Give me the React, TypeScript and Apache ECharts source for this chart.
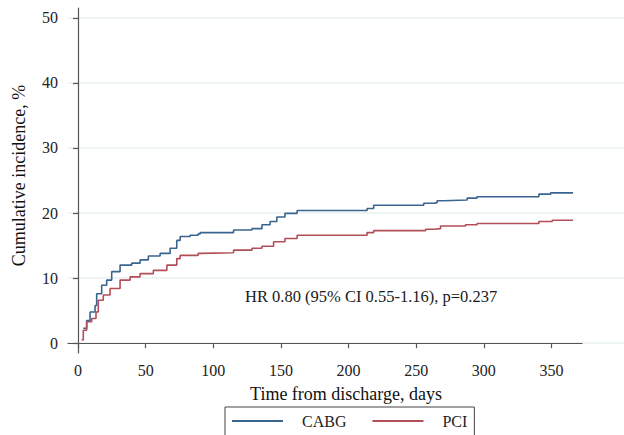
import React, { useEffect, useRef } from "react";
import * as echarts from "echarts";

// Kaplan-Meier style cumulative incidence
const cabgDays = [3.9, 6.4, 8.9, 12.6, 13.8, 17.5, 21.2, 24.9, 31.1, 39.7, 45.9, 52, 60.7, 68.1, 73, 75.5, 82.9, 88.8, 90.3, 115, 128.6, 136, 142, 147, 153, 162, 213.7, 218.6, 255.6, 263, 265.5, 270.4, 287.7, 295, 340.7, 349.4, 366];
const cabgValues = [2.3, 3.5, 4.8, 5.8, 7.6, 8.9, 9.7, 11.0, 12.0, 12.3, 12.8, 13.4, 13.8, 14.6, 15.8, 16.4, 16.6, 16.8, 17.0, 17.4, 17.6, 18.2, 18.7, 19.4, 19.95, 20.4, 20.7, 21.2, 21.5, 21.6, 21.9, 22.0, 22.3, 22.5, 22.9, 23.1, 23.1];
const pciDays = [2.7, 3.9, 6.4, 10.1, 13.3, 15, 18.7, 23.7, 31.1, 38.5, 45.9, 55.7, 65.7, 73, 75.5, 88.8, 90.3, 115, 128.6, 136, 144.6, 153, 162, 213.7, 218.6, 257, 263, 268, 286.5, 295, 340.7, 350.6, 366];
const pciValues = [0.5, 2.0, 3.3, 3.8, 4.8, 6.6, 7.4, 8.4, 9.7, 10.2, 10.7, 11.2, 12.0, 13.0, 13.5, 13.8, 13.9, 14.3, 14.6, 14.9, 15.6, 16.1, 16.6, 17.0, 17.3, 17.5, 17.6, 18.0, 18.2, 18.4, 18.7, 18.9, 18.9];

const xTicks = [0, 50, 100, 150, 200, 250, 300, 350];
const yTicks = [0, 10, 20, 30, 40, 50];
const seriesNames = ["CABG", "PCI"];
const xTitle = "Time from discharge, days";
const yTitle = "Cumulative incidence, %";
const annotation = "HR 0.80 (95% CI 0.55-1.16), p=0.237";

const FONT = "'Liberation Serif', 'Times New Roman', serif";
const BLUE = "#3a6590";
const RED = "#b24e58";
const AXIS = "#555555";
const GRID = "#e9f0f1";

export default function App() {
  const ref = useRef<HTMLDivElement>(null);

  useEffect(() => {
    if (!ref.current) return;
    const chart = echarts.init(ref.current, undefined, { renderer: "svg" });
    const cabg = cabgDays.map((d, i) => [d, cabgValues[i]]);
    const pci = pciDays.map((d, i) => [d, pciValues[i]]);

    chart.setOption({
      animation: false,
      backgroundColor: "#ffffff",
      textStyle: { fontFamily: FONT },
      grid: [
        { left: 68, top: 18, width: 564, height: 325, containLabel: false },
        { left: 68, top: 8, width: 514, height: 345, containLabel: false },
      ],
      xAxis: [
        {
          gridIndex: 0,
          type: "value",
          min: 0,
          max: 1,
          axisLine: { show: false },
          axisTick: { show: false },
          axisLabel: { show: false },
          splitLine: { show: false },
          name: xTitle,
          nameLocation: "middle",
          nameGap: 42,
          nameTextStyle: { fontFamily: FONT, fontSize: 18, color: "#111" },
        },
        {
          gridIndex: 1,
          type: "value",
          min: -7.4,
          max: 372.6,
          axisLine: { show: true, lineStyle: { color: AXIS, width: 1.2 } },
          axisTick: { show: true, customValues: xTicks, length: 5, lineStyle: { color: AXIS, width: 1.2 } },
          axisLabel: { show: true, customValues: xTicks, margin: 9, fontFamily: FONT, fontSize: 16, color: "#222" },
          splitLine: { show: false },
        },
      ],
      yAxis: [
        {
          gridIndex: 0,
          type: "value",
          min: 0,
          max: 50,
          interval: 10,
          axisLine: { show: false },
          axisTick: { show: false },
          axisLabel: { show: false },
          splitLine: { show: true, lineStyle: { color: GRID, width: 1.5 } },
        },
        {
          gridIndex: 1,
          type: "value",
          min: -1.5,
          max: 51.5,
          axisLine: { show: true, lineStyle: { color: AXIS, width: 1.2 } },
          axisTick: { show: true, customValues: yTicks, length: 5, lineStyle: { color: AXIS, width: 1.2 } },
          axisLabel: { show: true, customValues: yTicks, margin: 10, fontFamily: FONT, fontSize: 16, color: "#222" },
          splitLine: { show: false },
          name: yTitle,
          nameLocation: "middle",
          nameGap: 40,
          nameTextStyle: { fontFamily: FONT, fontSize: 18, color: "#111", padding: [0, 0, 0, 10] },
        },
      ],
      legend: {
        left: 225,
        top: 407,
        padding: [6, 7, 20, 7],
        borderColor: "#444",
        borderWidth: 1,
        backgroundColor: "#fff",
        itemWidth: 51,
        itemHeight: 2,
        itemGap: 26,
        icon: "rect",
        data: seriesNames,
        formatter: "{t|{name}}",
        textStyle: {
          fontFamily: FONT,
          fontSize: 16,
          color: "#222",
          rich: { t: { padding: [0, 0, 0, 14], fontFamily: FONT, fontSize: 16, color: "#222" } },
        },
      },
      graphic: [
        {
          type: "text",
          left: 245,
          top: 288,
          style: { text: annotation, fontFamily: FONT, fontSize: 16.5, fill: "#1a1a1a" },
        },
      ],
      series: [
        {
          name: seriesNames[0],
          type: "line",
          xAxisIndex: 1,
          yAxisIndex: 1,
          step: "end",
          data: cabg,
          symbol: "none",
          showSymbol: false,
          color: BLUE,
          lineStyle: { color: BLUE, width: 1.6 },
        },
        {
          name: seriesNames[1],
          type: "line",
          xAxisIndex: 1,
          yAxisIndex: 1,
          step: "end",
          data: pci,
          symbol: "none",
          showSymbol: false,
          color: RED,
          lineStyle: { color: RED, width: 1.6 },
        },
      ],
    });

    return () => chart.dispose();
  }, []);

  return (
    <div
      ref={ref}
      style={{ position: "absolute", left: 0, top: 0, width: 624, height: 435, overflow: "hidden" }}
    />
  );
}
